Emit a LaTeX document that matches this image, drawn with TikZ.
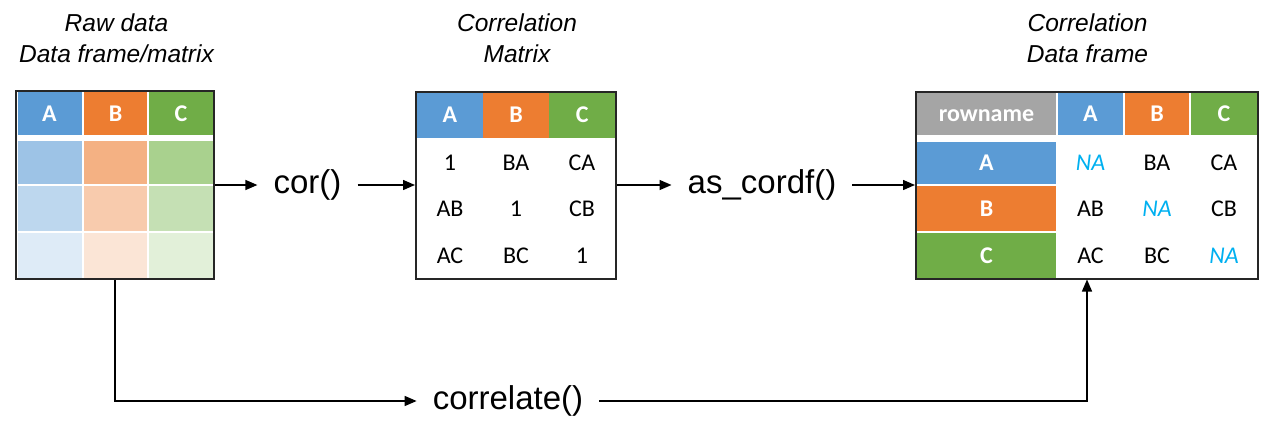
\documentclass[tikz,border=0pt]{standalone}
\usepackage{fontspec}
\setmainfont{Liberation Sans}
\newfontfamily\carl{Carlito}
\usetikzlibrary{arrows.meta}
\definecolor{cA}{HTML}{5B9BD5}
\definecolor{cB}{HTML}{ED7D31}
\definecolor{cC}{HTML}{70AD47}
\definecolor{cG}{HTML}{A5A5A5}
\definecolor{cA1}{HTML}{9DC3E6}
\definecolor{cB1}{HTML}{F4B183}
\definecolor{cC1}{HTML}{A9D18E}
\definecolor{cA2}{HTML}{BDD7EE}
\definecolor{cB2}{HTML}{F8CBAD}
\definecolor{cC2}{HTML}{C5E0B4}
\definecolor{cA3}{HTML}{DEEBF7}
\definecolor{cB3}{HTML}{FBE5D6}
\definecolor{cC3}{HTML}{E2F0D9}
\definecolor{naBlue}{HTML}{00B0F0}
\definecolor{frame}{HTML}{262626}
\begin{document}
\begin{tikzpicture}[x=1pt,y=-1pt,
  title/.style={align=center,font=\fontsize{24.5}{31}\selectfont\itshape,inner sep=0pt},
  func/.style={font=\fontsize{33}{38}\selectfont,inner ysep=0pt,inner xsep=16pt},
  hdr/.style={inner sep=0pt,text height=15.5pt,text depth=0pt,text=white,font=\carl\bfseries\fontsize{24}{28}\selectfont},
  val/.style={inner sep=0pt,text height=15.5pt,text depth=0pt,font=\carl\fontsize{24}{28}\selectfont},
  naval/.style={inner sep=0pt,text height=15.5pt,text depth=0pt,text=naBlue,font=\carl\itshape\fontsize{24}{28}\selectfont},
  tbl/.style={draw=frame,line width=2pt,inner sep=0pt},
  conn/.style={line width=1.4pt,-{Triangle[length=12pt,width=10pt]}},
  plain/.style={line width=1.4pt}]
\useasboundingbox (0,0) rectangle (1262,439);

% titles
\node[title] (title1) at (116.5,38.5) {Raw data\\Data frame/matrix};
\node[title] (title2) at (517,38.5) {Correlation\\Matrix};
\node[title] (title3) at (1087.5,38.5) {Correlation\\Data frame};

% table 1
\node[hdr,fill=cA,minimum width=64pt,minimum height=43pt] (t1hA) at (49.5,113.5) {A};
\node[hdr,fill=cB,minimum width=63pt,minimum height=43pt] (t1hB) at (115.5,113.5) {B};
\node[hdr,fill=cC,minimum width=64pt,minimum height=43pt] (t1hC) at (181,113.5) {C};
\node[fill=cA1,inner sep=0pt,minimum width=64pt,minimum height=43pt] (t1a1) at (49.5,162.5) {};
\node[fill=cB1,inner sep=0pt,minimum width=63pt,minimum height=43pt] (t1b1) at (115.5,162.5) {};
\node[fill=cC1,inner sep=0pt,minimum width=64pt,minimum height=43pt] (t1c1) at (181,162.5) {};
\node[fill=cA2,inner sep=0pt,minimum width=64pt,minimum height=45pt] (t1a2) at (49.5,208.5) {};
\node[fill=cB2,inner sep=0pt,minimum width=63pt,minimum height=45pt] (t1b2) at (115.5,208.5) {};
\node[fill=cC2,inner sep=0pt,minimum width=64pt,minimum height=45pt] (t1c2) at (181,208.5) {};
\node[fill=cA3,inner sep=0pt,minimum width=64pt,minimum height=45pt] (t1a3) at (49.5,255.5) {};
\node[fill=cB3,inner sep=0pt,minimum width=63pt,minimum height=45pt] (t1b3) at (115.5,255.5) {};
\node[fill=cC3,inner sep=0pt,minimum width=64pt,minimum height=45pt] (t1c3) at (181,255.5) {};
\node[tbl,minimum width=198pt,minimum height=188pt] (t1) at (115,185) {};

% table 2
\node[hdr,fill=cA,minimum width=66.4pt,minimum height=45pt] (t2hA) at (449.8,115) {A};
\node[hdr,fill=cB,minimum width=66.4pt,minimum height=45pt] (t2hB) at (516,115) {B};
\node[hdr,fill=cC,minimum width=66.4pt,minimum height=45pt] (t2hC) at (582.2,115) {C};
\node[val] (t2v11) at (450,163) {1};
\node[val] (t2v12) at (516,163) {BA};
\node[val] (t2v13) at (582,163) {CA};
\node[val] (t2v21) at (450,209) {AB};
\node[val] (t2v22) at (516,209) {1};
\node[val] (t2v23) at (582,209) {CB};
\node[val] (t2v31) at (450,256) {AC};
\node[val] (t2v32) at (516,256) {BC};
\node[val] (t2v33) at (582,256) {1};
\node[tbl,minimum width=200pt,minimum height=187pt] (t2) at (516,185) {};

% table 3
\node[hdr,fill=cG,minimum width=139pt,minimum height=42pt] (t3hR) at (986.5,114) {rowname};
\node[hdr,fill=cA,minimum width=65pt,minimum height=42pt] (t3hA) at (1090.5,114) {A};
\node[hdr,fill=cB,minimum width=64pt,minimum height=42pt] (t3hB) at (1157,114) {B};
\node[hdr,fill=cC,minimum width=66pt,minimum height=42pt] (t3hC) at (1224,114) {C};
\node[hdr,fill=cA,minimum width=139pt,minimum height=42pt] (t3rA) at (986.5,163) {A};
\node[hdr,fill=cB,minimum width=139pt,minimum height=45pt] (t3rB) at (986.5,208.5) {B};
\node[hdr,fill=cC,minimum width=139pt,minimum height=45pt] (t3rC) at (986.5,255.5) {C};
\node[naval] (t3v11) at (1090.5,163) {NA};
\node[val] (t3v12) at (1157,163) {BA};
\node[val] (t3v13) at (1224,163) {CA};
\node[val] (t3v21) at (1090.5,209) {AB};
\node[naval] (t3v22) at (1157,209) {NA};
\node[val] (t3v23) at (1224,209) {CB};
\node[val] (t3v31) at (1090.5,256) {AC};
\node[val] (t3v32) at (1157,256) {BC};
\node[naval] (t3v33) at (1224,256) {NA};
\node[tbl,minimum width=342pt,minimum height=187pt] (t3) at (1087,185) {};

% function labels
\node[func] (cor) at (307.5,185) {cor()};
\node[func] (asdf) at (762,185) {as\_cordf()};
\node[func] (corr) at (508,401) {correlate()};

% connectors
\draw[conn] (t1.east) -- (cor.west);
\draw[conn] (cor.east) -- (t2.west);
\draw[conn] (t2.east) -- (asdf.west);
\draw[conn] (asdf.east) -- (t3.west);
\draw[conn] (t1.south) |- (corr.west);
\draw[conn] (corr.east) -| (t3.south);
\end{tikzpicture}
\end{document}
